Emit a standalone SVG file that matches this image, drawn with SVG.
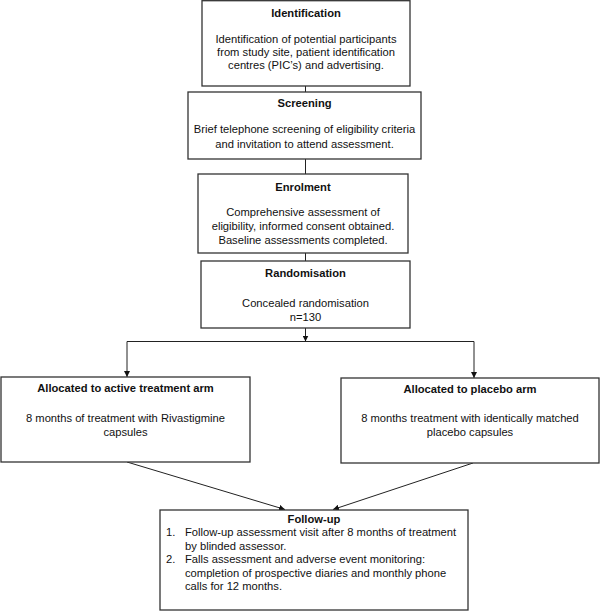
<svg xmlns="http://www.w3.org/2000/svg" width="600" height="612" viewBox="0 0 600 612">
<style>
.box{fill:#fff;stroke:#333;stroke-width:1.3}
text{font-family:"Liberation Sans",Arial,sans-serif;font-size:11.2px;fill:#111}
.t{font-weight:bold;text-anchor:middle}
.c{text-anchor:middle}
.ln{fill:none;stroke:#222;stroke-width:1}
</style>
<defs>
<marker id="ah" viewBox="0 0 10 10" refX="10" refY="5" markerWidth="6" markerHeight="6" markerUnits="userSpaceOnUse" orient="auto">
<path d="M0,0 L10,5 L0,10 z" fill="#111"/>
</marker>
</defs>
<rect width="600" height="612" fill="#fff"/>
<g id="connectors">
<line class="ln" x1="305.5" y1="86" x2="305.5" y2="92"/>
<line class="ln" x1="305.5" y1="159" x2="305.5" y2="174"/>
<line class="ln" x1="305.5" y1="253" x2="305.5" y2="261"/>
<line class="ln" x1="305.5" y1="328" x2="305.5" y2="341.5" marker-end="url(#ah)"/>
<polyline class="ln" points="127,341.5 474,341.5 474,378" marker-end="url(#ah)"/>
<line class="ln" x1="127" y1="341.5" x2="127" y2="377" marker-end="url(#ah)"/>
<line class="ln" x1="127" y1="462" x2="285" y2="509.5" marker-end="url(#ah)"/>
<line class="ln" x1="473" y1="463" x2="333" y2="509.5" marker-end="url(#ah)"/>
</g>
<g id="identification">
<rect class="box" x="202" y="0.7" width="208" height="85.3"/>
<text class="t" x="306" y="17">Identification</text>
<text class="c" x="306" y="43">Identification of potential participants</text>
<text class="c" x="306" y="56">from study site, patient identification</text>
<text class="c" x="306" y="69">centres (PIC’s) and advertising.</text>
</g>
<g id="screening">
<rect class="box" x="188" y="92" width="233" height="67"/>
<text class="t" x="304.5" y="107">Screening</text>
<text class="c" x="304.5" y="133">Brief telephone screening of eligibility criteria</text>
<text class="c" x="304.5" y="148">and invitation to attend assessment.</text>
</g>
<g id="enrolment">
<rect class="box" x="198" y="174" width="210" height="79"/>
<text class="t" x="303" y="191">Enrolment</text>
<text class="c" x="303" y="216">Comprehensive assessment of</text>
<text class="c" x="303" y="230">eligibility, informed consent obtained.</text>
<text class="c" x="303" y="244">Baseline assessments completed.</text>
</g>
<g id="randomisation">
<rect class="box" x="201" y="261" width="209" height="67"/>
<text class="t" x="305.5" y="277">Randomisation</text>
<text class="c" x="305.5" y="307">Concealed randomisation</text>
<text class="c" x="305.5" y="321">n=130</text>
</g>
<g id="active">
<rect class="box" x="1" y="377" width="249" height="85"/>
<text class="t" x="125.5" y="392">Allocated to active treatment arm</text>
<text class="c" x="125.5" y="422">8 months of treatment with Rivastigmine</text>
<text class="c" x="125.5" y="435.5">capsules</text>
</g>
<g id="placebo">
<rect class="box" x="341" y="378" width="258" height="85"/>
<text class="t" x="470" y="393">Allocated to placebo arm</text>
<text class="c" x="470" y="422">8 months treatment with identically matched</text>
<text class="c" x="470" y="436">placebo capsules</text>
</g>
<g id="followup">
<rect class="box" x="160" y="510" width="308" height="100"/>
<text class="t" x="314" y="523">Follow-up</text>
<text x="166" y="536">1.</text>
<text x="185" y="536">Follow-up assessment visit after 8 months of treatment</text>
<text x="185" y="549.5">by blinded assessor.</text>
<text x="166" y="563">2.</text>
<text x="185" y="563">Falls assessment and adverse event monitoring:</text>
<text x="185" y="576.5">completion of prospective diaries and monthly phone</text>
<text x="185" y="590">calls for 12 months.</text>
</g>
</svg>
